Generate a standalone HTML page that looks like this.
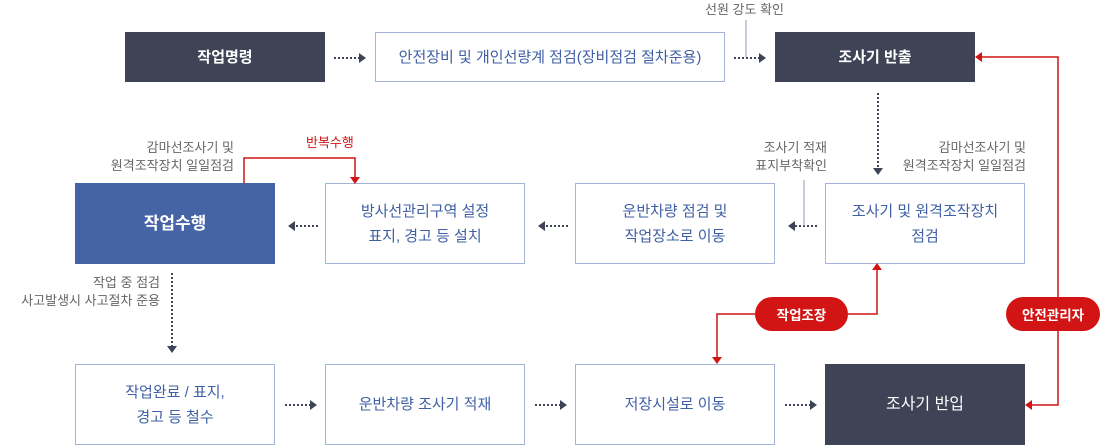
<!DOCTYPE html>
<html><head><meta charset="utf-8"><style>
body{margin:0;width:1100px;height:447px;background:#fff;position:relative;overflow:hidden;font-family:"Liberation Sans","Noto Sans CJK KR",sans-serif}
.b{position:absolute;box-sizing:border-box;display:flex;align-items:center;justify-content:center;text-align:center;font-size:15px;line-height:25px}
.d{background:#3e4456;color:#fff;font-weight:bold;font-size:15px}
.o{border:1.5px solid #a3b4d8;color:#3f5fa6}
.t{position:absolute;font-size:13px;color:#666;line-height:18px;text-align:right;white-space:nowrap}
.p{position:absolute;background:#d21414;color:#fff;font-weight:bold;font-size:13.5px;border-radius:17px;display:flex;align-items:center;justify-content:center}
svg{position:absolute;left:0;top:0}
</style></head><body>
<div class="b d" style="left:125px;top:32px;width:200px;height:50px">작업명령</div>
<div class="b o" style="left:375px;top:32px;width:350px;height:50px">안전장비 및 개인선량계 점검(장비점검 절차준용)</div>
<div class="b d" style="left:775px;top:32px;width:200px;height:50px">조사기 반출</div>
<div class="b" style="left:75px;top:183px;width:200px;height:81px;background:#4464a6;color:#fff;font-weight:bold;font-size:17px">작업수행</div>
<div class="b o" style="left:325px;top:183px;width:200px;height:81px">방사선관리구역 설정<br>표지, 경고 등 설치</div>
<div class="b o" style="left:575px;top:183px;width:200px;height:81px">운반차량 점검 및<br>작업장소로 이동</div>
<div class="b o" style="left:825px;top:183px;width:200px;height:81px">조사기 및 원격조작장치<br>점검</div>
<div class="b o" style="left:75px;top:364px;width:200px;height:81px">작업완료 / 표지,<br>경고 등 철수</div>
<div class="b o" style="left:325px;top:364px;width:200px;height:81px">운반차량 조사기 적재</div>
<div class="b o" style="left:575px;top:364px;width:200px;height:81px">저장시설로 이동</div>
<div class="b d" style="left:825px;top:364px;width:200px;height:81px;font-weight:normal;font-size:16px">조사기 반입</div>
<div class="t" style="left:705px;top:1px;text-align:center">선원 강도 확인</div>
<div class="t" style="right:866px;top:139px">감마선조사기 및<br>원격조작장치 일일점검</div>
<div class="t" style="left:306px;top:134px;color:#d21414">반복수행</div>
<div class="t" style="right:273px;top:139px">조사기 적재<br>표지부착확인</div>
<div class="t" style="right:74px;top:139px">감마선조사기 및<br>원격조작장치 일일점검</div>
<div class="t" style="right:940px;top:274px">작업 중 점검<br>사고발생시 사고절차 준용</div>
<div class="p" style="left:755px;top:297px;width:93px;height:34px">작업조장</div>
<div class="p" style="left:1006px;top:297px;width:94px;height:34px">안전관리자</div>
<svg width="1100" height="447">
<g stroke="#3e4456" stroke-width="2" stroke-dasharray="2,2" fill="none">
<path d="M334 58H359M734 58H759M878 93V168M172 273V346M318 226H295M568 226H545M817 226H795M285 405H310M535 405H560M785 405H810"/>
</g>
<g fill="#3e4456">
<path d="M359 53l7 5-7 5zM759 53l7 5-7 5zM873 168l5 7 5-7zM167 346l5 7 5-7zM295 221l-7 5 7 5zM545 221l-7 5 7 5zM795 221l-7 5 7 5zM310 400l7 5-7 5zM560 400l7 5-7 5zM810 400l7 5-7 5z"/>
</g>
<path d="M746 20V57M804 180V226" stroke="#8a9bc4" stroke-width="1" fill="none"/>
<g stroke="#d21414" stroke-width="1.5" fill="none">
<path d="M244 183V158H355V177M848 314H877V270M755 314H717V357M1058 297V57H982M1058 331V405H1032"/>
</g>
<g fill="#d21414">
<path d="M350 177h10l-5 7zM872 270h10l-5-7zM712 357h10l-5 7zM982 52v10l-7-5zM1032 400v10l-7-5z"/>
</g>
</svg>
</body></html>
